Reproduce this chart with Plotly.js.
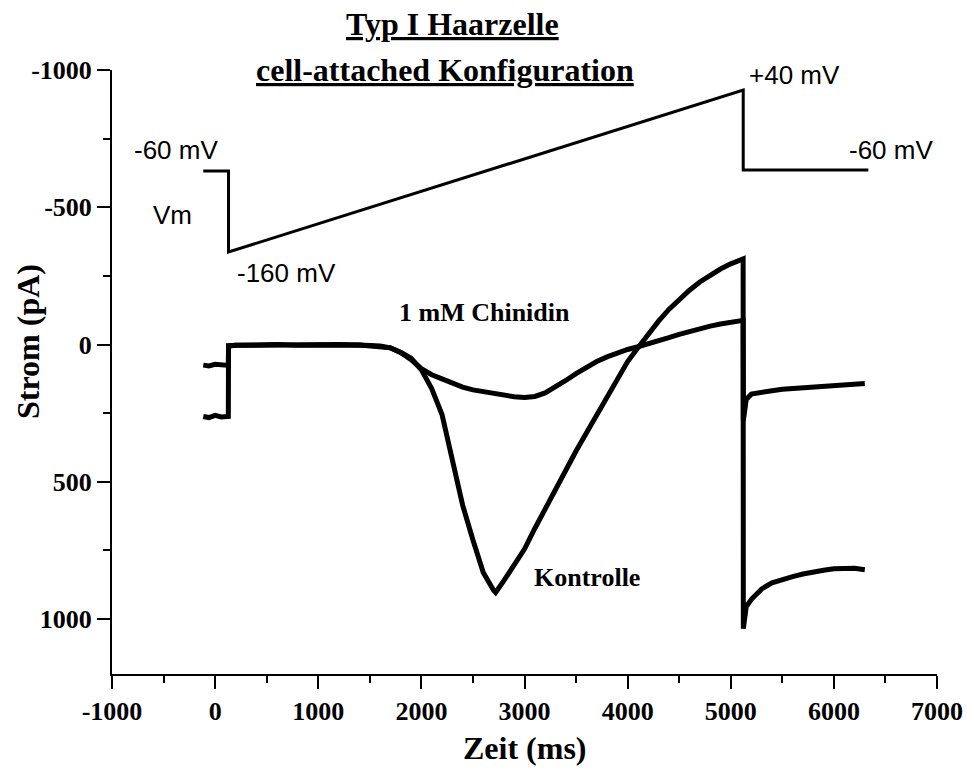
<!DOCTYPE html>
<html>
<head>
<meta charset="utf-8">
<script src="https://cdn.plot.ly/plotly-3.0.1.min.js"></script>
<style>html,body{margin:0;padding:0;background:#fff;}#chart{width:967px;height:773px;}</style>
</head>
<body>
<div id="chart"></div>
<script>
// Kontrolle (control) current trace, time in ms, current in pA
var kontrolleTime = [-115, -60, 0, 60, 128, 130, 200, 400, 600, 800, 1000, 1200, 1400, 1600, 1700, 1800, 1900, 2000, 2100, 2200, 2300, 2400, 2500, 2600, 2700, 2720, 2800, 2900, 3000, 3100, 3200, 3300, 3400, 3500, 3600, 3700, 3800, 3900, 4000, 4100, 4200, 4300, 4400, 4500, 4600, 4700, 4800, 4900, 5000, 5120, 5122, 5150, 5200, 5300, 5400, 5500, 5600, 5700, 5800, 5900, 6000, 6100, 6200, 6300];
var kontrolleCurrent = [262, 266, 258, 264, 262, 5, 3, 2, 0, 3, 2, 0, 2, 6, 12, 28, 50, 92, 160, 255, 420, 585, 712, 830, 895, 903, 860, 806, 745, 670, 597, 525, 455, 388, 322, 255, 188, 122, 62, 12, -38, -85, -128, -165, -198, -228, -253, -275, -294, -312, 1035, 955, 928, 890, 868, 855, 845, 836, 828, 822, 817, 814, 815, 820];

// 1 mM Chinidin current trace
var chinidinTime = [-115, -60, 0, 60, 128, 130, 200, 400, 600, 800, 1000, 1200, 1400, 1600, 1700, 1800, 1900, 2000, 2100, 2200, 2300, 2400, 2500, 2600, 2700, 2800, 2900, 3000, 3100, 3200, 3300, 3400, 3500, 3600, 3700, 3800, 3900, 4000, 4100, 4200, 4300, 4400, 4500, 4600, 4700, 4800, 4900, 5000, 5120, 5122, 5150, 5200, 5300, 5400, 5500, 5600, 5700, 5800, 5900, 6000, 6100, 6200, 6300];
var chinidinCurrent = [75, 78, 72, 76, 76, 5, 3, 2, 0, 3, 2, 0, 2, 5, 12, 30, 55, 88, 110, 125, 140, 155, 165, 172, 180, 185, 190, 193, 189, 176, 156, 131, 106, 82, 62, 45, 30, 18, 8, -2, -13, -25, -37, -48, -58, -67, -75, -82, -88, 277, 200, 180, 172, 168, 163, 160, 157, 155, 152, 150, 147, 145, 142];

// Voltage protocol (Vm) schematic drawn on the current scale
var vmTime = [-115, 130, 130, 5121, 5121, 6334];
var vmLevel = [-632, -632, -337, -927, -636, -636];

// Axis ticks
var xTicks = [-1000, 0, 1000, 2000, 3000, 4000, 5000, 6000, 7000];
var yTicks = [-1000, -500, 0, 500, 1000];

// Text labels
var labelText = ['-60 mV', 'Vm', '-160 mV', '+40 mV', '-60 mV'];
var labelX = [-378, -417, 689, 5616, 6557];
var labelY = [-710, -473, -262, -983, -710];
var traceLabelText = ['1 mM Chinidin', 'Kontrolle'];
var traceLabelX = [2609, 3608];
var traceLabelY = [-117, 849];

var serif = 'Liberation Serif, Times New Roman, serif';
var sans = 'Liberation Sans, Arial, sans-serif';

var traces = [
  {x: kontrolleTime, y: kontrolleCurrent, mode: 'lines', line: {color: '#000', width: 5}, hoverinfo: 'skip'},
  {x: chinidinTime, y: chinidinCurrent, mode: 'lines', line: {color: '#000', width: 5}, hoverinfo: 'skip'},
  {x: vmTime, y: vmLevel, mode: 'lines', line: {color: '#000', width: 3}, hoverinfo: 'skip'}
];

var annotations = [];
for (var i = 0; i < labelText.length; i++) {
  annotations.push({x: labelX[i], y: labelY[i], xref: 'x', yref: 'y', text: labelText[i], showarrow: false,
    font: {family: sans, size: 26, color: '#000'}, xanchor: 'center', yanchor: 'middle'});
}
for (var j = 0; j < traceLabelText.length; j++) {
  annotations.push({x: traceLabelX[j], y: traceLabelY[j], xref: 'x', yref: 'y', text: '<b>' + traceLabelText[j] + '</b>', showarrow: false,
    font: {family: serif, size: 26, color: '#000'}, xanchor: 'center', yanchor: 'middle'});
}
annotations.push({x: 0.413, y: 1.076, xref: 'paper', yref: 'paper', text: '<b><u>Typ I Haarzelle</u></b>', showarrow: false,
  font: {family: serif, size: 32, color: '#000'}, xanchor: 'center', yanchor: 'middle'});
annotations.push({x: 0.404, y: 1.0, xref: 'paper', yref: 'paper', text: '<b><u>cell-attached Konfiguration</u></b>', showarrow: false,
  font: {family: serif, size: 32, color: '#000'}, xanchor: 'center', yanchor: 'middle'});
annotations.push({x: -0.1018, y: 0.5497, xref: 'paper', yref: 'paper', text: '<b>Strom (pA)</b>', showarrow: false, textangle: -90,
  font: {family: serif, size: 32, color: '#000'}, xanchor: 'center', yanchor: 'middle'});
annotations.push({x: 0.5, y: -0.1225, xref: 'paper', yref: 'paper', text: '<b>Zeit (ms)</b>', showarrow: false,
  font: {family: serif, size: 32, color: '#000'}, xanchor: 'center', yanchor: 'middle'});

var layout = {
  width: 967, height: 773,
  margin: {l: 112, r: 30, t: 70, b: 99},
  paper_bgcolor: '#fff', plot_bgcolor: '#fff',
  showlegend: false,
  xaxis: {
    range: [-1000, 7000], tickvals: xTicks, ticktext: xTicks.map(String),
    showline: true, linecolor: '#000', linewidth: 2, mirror: false,
    ticks: 'outside', ticklen: 13, tickwidth: 2, tickcolor: '#000',
    minor: {dtick: 500, ticks: 'outside', ticklen: 7, tickwidth: 2, tickcolor: '#000', showgrid: false},
    showgrid: false, zeroline: false,
    tickfont: {family: serif, size: 26, color: '#000', weight: 'bold'}
  },
  yaxis: {
    range: [1200, -1000], tickvals: yTicks, ticktext: yTicks.map(String),
    showline: true, linecolor: '#000', linewidth: 2, mirror: false,
    ticks: 'outside', ticklen: 13, tickwidth: 2, tickcolor: '#000',
    minor: {dtick: 250, ticks: 'outside', ticklen: 7, tickwidth: 2, tickcolor: '#000', showgrid: false},
    showgrid: false, zeroline: false,
    tickfont: {family: serif, size: 26, color: '#000', weight: 'bold'}
  },
  annotations: annotations
};

Plotly.newPlot('chart', traces, layout, {staticPlot: true, displayModeBar: false});
</script>
</body>
</html>
